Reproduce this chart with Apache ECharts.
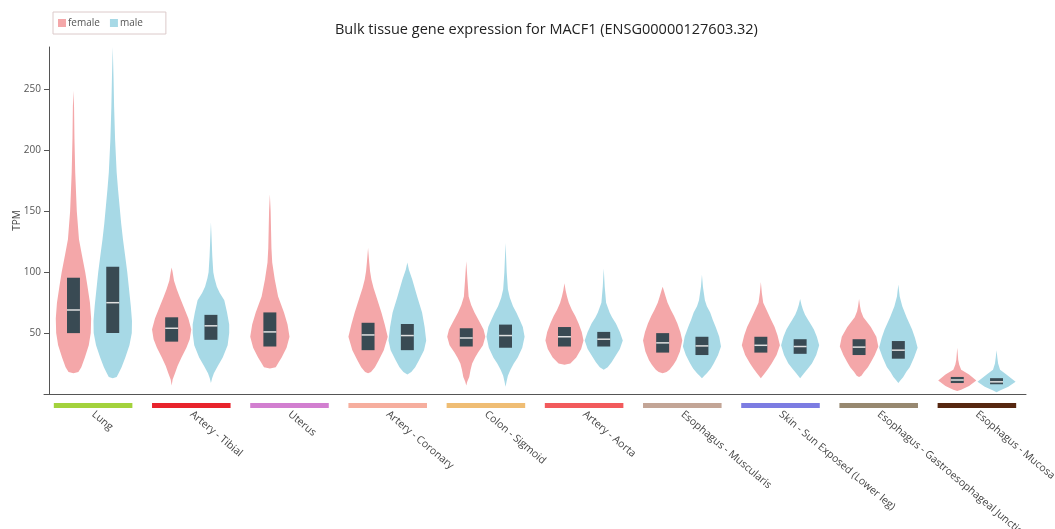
<!DOCTYPE html>
<html>
<head>
<meta charset="utf-8">
<script src="https://cdn.jsdelivr.net/npm/echarts@6/dist/echarts.min.js"></script>
<style>html,body{margin:0;padding:0;background:#fff;}#c{width:1055px;height:529px;}</style>
</head>
<body>
<div id="c"></div>
<script>
const categories = ['Lung','Artery - Tibial','Uterus','Artery - Coronary','Colon - Sigmoid','Artery - Aorta','Esophagus - Muscularis','Skin - Sun Exposed (Lower leg)','Esophagus - Gastroesophageal Junction','Esophagus - Mucosa'];
const tissueColors = ['#a3d23c','#e8232c','#d27fd0','#f6ae9e','#efbd74','#f25a5c','#c3a596','#7c7ce2','#978870','#562710'];
const yTicks = [0, 50, 100, 150, 200, 250];

// violin outlines: [TPM, relative half-width]
const femaleViolins = [
  [[17,0],[18,0.25],[22,0.4],[30,0.58],[40,0.78],[50,0.88],[62,0.9],[75,0.84],[90,0.7],[100,0.6],[115,0.42],[127,0.28],[150,0.17],[182,0.09],[210,0.05],[236,0.03],[249,0]],
  [[7,0],[12,0.05],[17,0.17],[23,0.3],[30,0.5],[38,0.75],[45,0.92],[53,1.0],[62,0.85],[72,0.6],[80,0.4],[86,0.26],[93,0.12],[100,0.05],[104,0]],
  [[21,0],[22,0.3],[26,0.45],[30,0.6],[38,0.85],[47,1.0],[57,0.9],[67,0.72],[80,0.42],[94,0.25],[108,0.12],[120,0.08],[135,0.06],[150,0.04],[164,0]],
  [[17,0],[18,0.15],[22,0.35],[28,0.55],[36,0.8],[47,1.0],[57,0.85],[67,0.68],[80,0.42],[87,0.28],[94,0.17],[101,0.1],[108,0.06],[120,0]],
  [[7,0],[10,0.05],[14,0.15],[20,0.22],[25,0.3],[30,0.45],[34,0.6],[40,0.85],[47,0.97],[53,0.88],[58,0.72],[63,0.55],[67,0.42],[73,0.25],[80,0.12],[94,0.06],[109,0]],
  [[24,0],[25,0.3],[30,0.6],[37,0.85],[44,0.97],[51,0.88],[58,0.72],[64,0.55],[69,0.38],[75,0.22],[80,0.13],[85,0.06],[91,0]],
  [[17,0],[18,0.2],[20,0.35],[24,0.55],[28,0.7],[35,0.88],[44,1.0],[51,0.9],[58,0.75],[64,0.58],[69,0.42],[75,0.25],[80,0.15],[85,0.06],[88,0]],
  [[13,0],[15,0.1],[17,0.2],[21,0.38],[25,0.55],[32,0.8],[40,0.97],[48,0.85],[55,0.7],[61,0.52],[67,0.35],[75,0.12],[83,0.05],[92,0]],
  [[14,0],[15,0.12],[18,0.25],[22,0.45],[26,0.6],[32,0.8],[39,0.98],[47,0.88],[55,0.6],[63,0.22],[68,0.1],[72,0.05],[78,0]],
  [[2.5,0],[3.5,0.2],[6.5,0.6],[11,0.97],[16,0.6],[20,0.2],[24,0.1],[28,0.05],[38,0]]
];
const maleViolins = [
  [[13,0],[14,0.2],[17,0.3],[22,0.45],[30,0.64],[40,0.85],[50,0.97],[60,0.98],[72,0.92],[86,0.83],[100,0.74],[115,0.62],[127,0.52],[140,0.43],[154,0.35],[168,0.27],[182,0.2],[209,0.12],[236,0.07],[260,0.04],[285,0]],
  [[9,0],[13,0.06],[17,0.15],[23,0.35],[30,0.6],[40,0.85],[50,0.93],[57,0.93],[67,0.82],[77,0.68],[83,0.45],[88,0.3],[95,0.18],[100,0.12],[113,0.07],[125,0.04],[141,0]],
  null,
  [[16,0],[18,0.2],[22,0.4],[28,0.6],[36,0.85],[44,0.96],[55,0.88],[67,0.75],[80,0.5],[94,0.25],[102,0.08],[108,0]],
  [[6,0],[10,0.05],[15,0.12],[20,0.25],[25,0.42],[30,0.62],[38,0.85],[47,0.97],[55,0.88],[61,0.72],[67,0.55],[72,0.38],[79,0.22],[86,0.12],[100,0.06],[124,0]],
  [[20,0],[22,0.2],[26,0.4],[30,0.55],[37,0.82],[44,0.97],[51,0.82],[58,0.62],[63,0.42],[67,0.3],[75,0.12],[88,0.05],[103,0]],
  [[13,0],[15,0.12],[17,0.25],[21,0.45],[25,0.6],[32,0.82],[39,0.97],[47,0.88],[55,0.7],[61,0.55],[67,0.42],[72,0.25],[77,0.15],[88,0.05],[98,0]],
  [[13,0],[15,0.1],[17,0.2],[21,0.4],[25,0.6],[32,0.82],[40,0.97],[47,0.85],[53,0.7],[57,0.55],[61,0.4],[65,0.25],[69,0.15],[73,0.07],[78,0]],
  [[9,0],[11,0.1],[14,0.25],[18,0.4],[22,0.58],[30,0.8],[38,0.98],[46,0.85],[53,0.7],[63,0.42],[72,0.2],[80,0.07],[90,0]],
  [[1.5,0],[3,0.2],[6,0.6],[10,0.97],[16,0.5],[20,0.18],[25,0.08],[30,0.04],[36,0]]
];
// boxes: [Q1, median, Q3]
const femaleBoxes = [[50,69,95.5],[43,54,63],[39,51,67],[36,48.5,58.5],[39,46,54],[39,47,55],[34,42,50],[34,40,47],[32,38.5,45],[9,11.5,14]];
const maleBoxes = [[50,75,104.5],[44.5,56,65],null,[36,48,57.5],[38,48,57],[39,45,51],[32,39.5,47],[33,39,45],[29,36,43.5],[8,10,13]];

const FEMALE_COLOR = '#f4a7a9';
const MALE_COLOR = '#a7d9e6';
const BOX_COLOR = '#394a53';

function violinRenderer(shapes, boxes, sign, color) {
  return function (params, api) {
    const cat = api.value(0);
    const shape = shapes[cat];
    if (!shape) return null;
    const band = api.size([1, 0])[0];
    const cx = api.coord([cat, 0])[0] + sign * 0.2 * band;
    const maxHw = 0.2 * band;
    const right = shape.map(p => [cx + p[1] * maxHw, api.coord([cat, p[0]])[1]]);
    const left = shape.slice().reverse().map(p => [cx - p[1] * maxHw, api.coord([cat, p[0]])[1]]);
    const children = [{
      type: 'polygon',
      shape: { points: right.concat(left), smooth: 0 },
      style: { fill: color, stroke: null }
    }];
    const b = boxes[cat];
    if (b) {
      const bw = 0.066 * band;
      const yq1 = api.coord([cat, b[0]])[1];
      const ymed = api.coord([cat, b[1]])[1];
      const yq3 = api.coord([cat, b[2]])[1];
      children.push({
        type: 'rect',
        shape: { x: cx - bw, y: yq3, width: 2 * bw, height: yq1 - yq3 },
        style: { fill: BOX_COLOR }
      });
      children.push({
        type: 'line',
        shape: { x1: cx - bw, y1: ymed, x2: cx + bw, y2: ymed },
        style: { stroke: '#e0e0e0', lineWidth: 1.5 }
      });
    }
    return { type: 'group', children: children };
  };
}

const catData = categories.map((c, i) => [i, 0]);

const chart = echarts.init(document.getElementById('c'), null, { renderer: 'canvas' });
chart.setOption({
  animation: false,
  backgroundColor: '#ffffff',
  textStyle: { fontFamily: 'Open Sans' },
  title: {
    text: 'Bulk tissue gene expression for MACF1 (ENSG00000127603.32)',
    left: 335, top: 22, padding: 0,
    textStyle: { fontSize: 14.5, fontWeight: 'normal', color: '#222', fontFamily: 'Open Sans' }
  },
  legend: {
    left: 53, top: 12,
    padding: [6, 23, 6, 5],
    borderColor: '#dccaca', borderWidth: 1,
    itemWidth: 8, itemHeight: 8, itemGap: 10,
    icon: 'rect',
    data: ['female', 'male'],
    textStyle: { fontSize: 10, color: '#555', padding: [0, 0, 0, -3] }
  },
  grid: { left: 44, right: 29, top: 47, bottom: 135, outerBoundsMode: 'none' },
  xAxis: {
    type: 'category',
    data: categories,
    axisLine: { lineStyle: { color: '#555' } },
    axisTick: { alignWithLabel: true, length: 4, lineStyle: { color: '#555' } },
    axisLabel: { rotate: -40, margin: 19, fontSize: 10.5, color: '#444', interval: 0 },
    splitLine: { show: false }
  },
  yAxis: {
    type: 'value',
    min: 0, max: 285, interval: 50,
    offset: -5,
    name: 'TPM', nameLocation: 'middle', nameGap: 27, nameRotate: 90,
    nameMoveOverlap: false,
    nameTextStyle: { fontSize: 10, color: '#444' },
    axisLine: { show: true, lineStyle: { color: '#555' } },
    axisTick: { show: true, length: 5, lineStyle: { color: '#555' } },
    axisLabel: {
      fontSize: 10, color: '#555', margin: 8, showMaxLabel: false,
      formatter: v => (yTicks.indexOf(v) > 0 ? String(v) : '')
    },
    splitLine: { show: false }
  },
  series: [
    {
      name: 'female', type: 'custom', data: catData,
      itemStyle: { color: FEMALE_COLOR },
      encode: { x: 0, y: 1 },
      renderItem: violinRenderer(femaleViolins, femaleBoxes, -1, FEMALE_COLOR)
    },
    {
      name: 'male', type: 'custom', data: catData,
      itemStyle: { color: MALE_COLOR },
      encode: { x: 0, y: 1 },
      renderItem: violinRenderer(maleViolins, maleBoxes, 1, MALE_COLOR)
    },
    {
      name: 'tissue', type: 'custom', data: catData,
      encode: { x: 0, y: 1 },
      clip: false,
      renderItem: function (params, api) {
        const i = api.value(0);
        const band = api.size([1, 0])[0];
        const p = api.coord([i, 0]);
        return {
          type: 'rect',
          shape: { x: p[0] - 0.4 * band, y: p[1] + 9, width: 0.8 * band, height: 5 },
          style: { fill: tissueColors[i] }
        };
      }
    }
  ]
});
</script>
</body>
</html>
